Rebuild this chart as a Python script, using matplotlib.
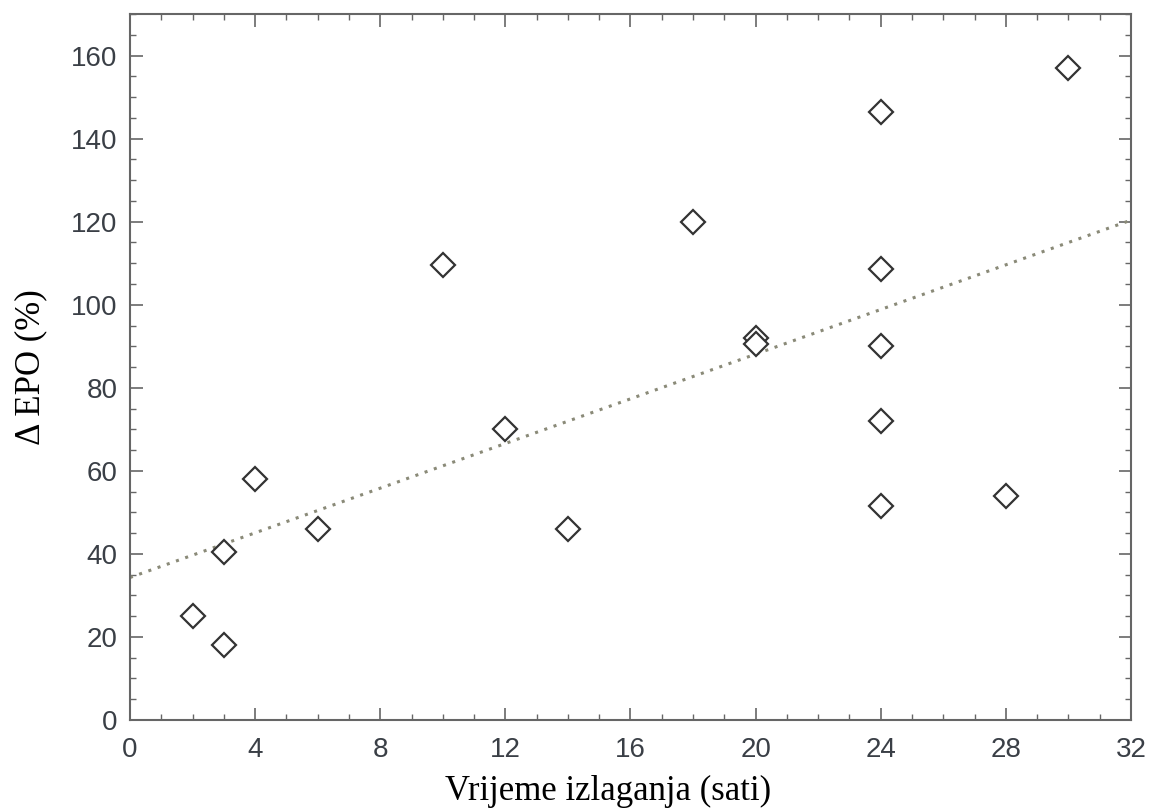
import numpy as np
import matplotlib
matplotlib.use('Agg')
import matplotlib.pyplot as plt
from matplotlib.ticker import MultipleLocator

# data
sati = [2, 3, 3, 4, 6, 10, 12, 14, 18, 20, 20, 24, 24, 24, 24, 24, 28, 30]
epo = [25, 40.5, 18, 58, 46, 109.5, 70, 46, 120, 92, 90.5, 146.5, 108.5, 90, 72, 51.5, 54, 157]
# trend line (intercept, slope) as drawn
trend_b, trend_k = 34.3, 2.69
x_ticks = [0, 4, 8, 12, 16, 20, 24, 28, 32]
y_ticks = [0, 20, 40, 60, 80, 100, 120, 140, 160]

fig = plt.figure(figsize=(11.5, 8.08), dpi=100)
ax = fig.add_axes([0.113, 0.109, 0.8705, 0.8735])

xl = np.array([0, 32])
ax.plot(xl, trend_b + trend_k * xl, linestyle=(0, (1, 2.2)), color='#8a8a78',
        linewidth=2.2, zorder=2)
ax.plot(sati, epo, linestyle='none', marker='D', markersize=12.5,
        markerfacecolor='white', markeredgecolor='#333333', markeredgewidth=1.6, zorder=3)

ax.set_xlim(0, 32)
ax.set_ylim(0, 170)
ax.set_xticks(x_ticks)
ax.set_yticks(y_ticks)
ax.xaxis.set_minor_locator(MultipleLocator(1))
ax.yaxis.set_minor_locator(MultipleLocator(5))
ax.tick_params(which='both', direction='in', top=True, right=True, colors='#666666',
               labelcolor='#3a3f46', labelsize=20)
ax.tick_params(which='major', length=9, width=1.2)
ax.tick_params(which='minor', length=4, width=1)
ax.tick_params(axis='x', which='major', pad=12)
ax.tick_params(axis='y', which='major', pad=9)
for lab in ax.get_xticklabels() + ax.get_yticklabels():
    lab.set_family('Liberation Sans')
for s in ax.spines.values():
    s.set_color('#666666')
    s.set_linewidth(1.5)

ax.set_xlabel('Vrijeme izlaganja (sati)', family='Liberation Serif', fontsize=25)
ax.xaxis.set_label_coords(0.4775, -0.078, transform=ax.transAxes)
ax.xaxis.label.set_va('top')
ax.set_ylabel('Δ EPO (%)', family='Liberation Serif', fontsize=25, labelpad=17)

fig.savefig('out.png', dpi=100)
